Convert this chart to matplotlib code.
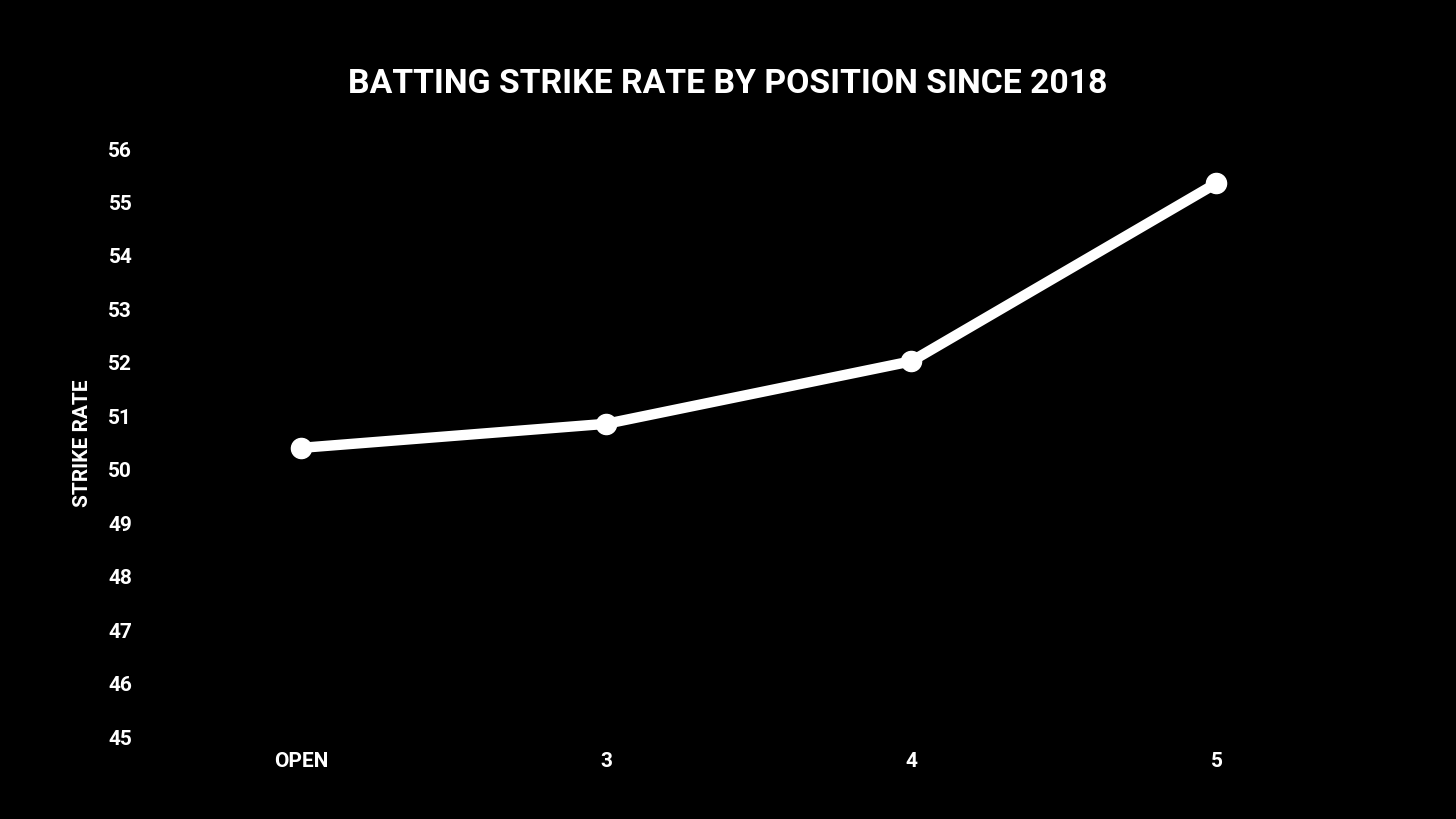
import matplotlib
matplotlib.use("Agg")
from matplotlib import pyplot as plt

positions = ["OPEN", "3", "4", "5"]
strike_rate = [50.41, 50.86, 52.03, 55.36]
yticks = list(range(45, 57))

plt.rcParams['font.family'] = ['Roboto', 'DejaVu Sans']
plt.rcParams['font.weight'] = 'bold'

fig = plt.figure(figsize=(14.56, 8.19), dpi=100, facecolor="black")
ax = fig.add_axes([0.1023, 0.1001, 0.8379, 0.7179], facecolor="black")

x = list(range(len(positions)))
ax.plot(x, strike_rate, color="white", lw=7.5, marker="o", markersize=14.5,
        solid_capstyle="round")

ax.set_xlim(-0.5, 3.5)
ax.set_ylim(45, 56)
ax.set_xticks(x)
ax.set_xticklabels(positions)
ax.set_yticks(yticks)
for s in ax.spines.values():
    s.set_visible(False)
ax.tick_params(axis="both", length=0, colors="white", labelsize=15)
ax.tick_params(axis="y", pad=12)
ax.tick_params(axis="x", pad=11)
ax.set_ylabel("STRIKE RATE", color="white", fontsize=15, fontweight="bold", labelpad=12)

fig.text(0.5, 0.897, "BATTING STRIKE RATE BY POSITION SINCE 2018", color="white",
         fontsize=24.3, ha="center", va="center", fontweight="bold")

fig.savefig("out.png", dpi=100, facecolor="black")
